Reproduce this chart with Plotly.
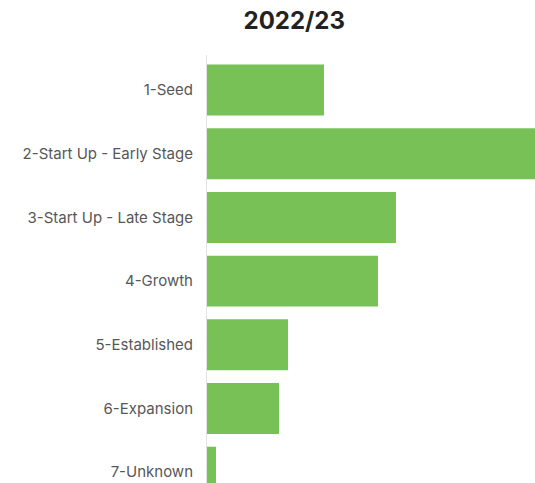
import plotly.graph_objects as go

# Funding stages and values per stage
stages = [
    "1-Seed",
    "2-Start Up - Early Stage",
    "3-Start Up - Late Stage",
    "4-Growth",
    "5-Established",
    "6-Expansion",
    "7-Unknown",
]
values = [13, 40, 21, 19, 9, 8, 1]

fig = go.Figure(
    go.Bar(
        x=values,
        y=stages,
        orientation="h",
        marker=dict(color="#77C157", line=dict(width=0)),
        hoverinfo="x+y",
    )
)

fig.update_layout(
    width=535,
    height=483,
    margin=dict(l=207, r=0, t=55, b=0, pad=0),
    paper_bgcolor="white",
    plot_bgcolor="white",
    bargap=0.2,
    showlegend=False,
    font=dict(family="Inter, Liberation Sans, Arial, sans-serif", color="#575757", size=15),
    title=dict(
        text="<b>2022/23</b>",
        x=0.55,
        xanchor="center",
        y=0.957,
        yanchor="middle",
        font=dict(family="Inter, Liberation Sans, Arial, sans-serif", size=24, color="#222222"),
    ),
)

fig.update_xaxes(
    range=[0, 36.45],
    showgrid=False,
    zeroline=False,
    showticklabels=False,
    showline=False,
)

fig.update_yaxes(
    categoryorder="array",
    categoryarray=stages,
    range=[6.17, -0.55],
    showgrid=False,
    zeroline=False,
    showline=True,
    linecolor="#e2e2e2",
    linewidth=1,
    ticks="",
    ticklabelstandoff=10,
)

fig.write_html("out.html")
